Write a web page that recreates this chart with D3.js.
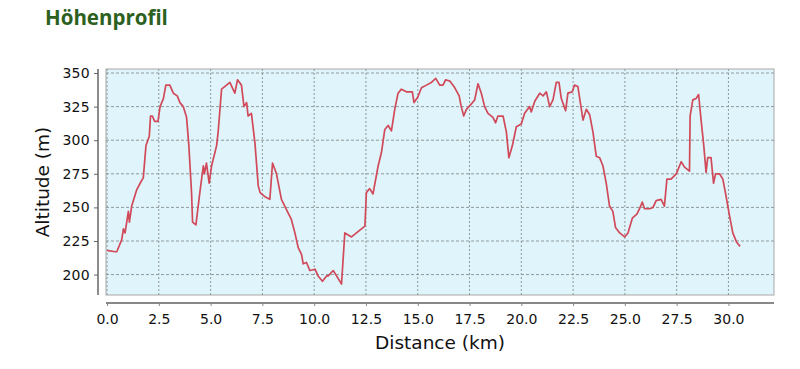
<!DOCTYPE html>
<html><head><meta charset="utf-8">
<script src="https://cdn.jsdelivr.net/npm/d3@7"></script>
<style>body{margin:0;background:#fff;}svg{display:block;}</style>
</head><body>
<svg id="c" width="800" height="369"></svg>
<script>
const distanceKm = [0,0.39,0.47,0.71,0.79,0.87,1.03,1.08,1.19,1.43,1.67,1.75,1.88,2.04,2.10,2.19,2.30,2.46,2.56,2.72,2.84,3.03,3.20,3.39,3.52,3.68,3.84,3.95,4.08,4.13,4.29,4.48,4.65,4.70,4.80,4.93,5.05,5.29,5.37,5.53,5.77,5.93,6.17,6.30,6.49,6.61,6.74,6.81,6.97,7.14,7.30,7.39,7.62,7.86,7.99,8.18,8.42,8.58,8.74,8.90,9.07,9.23,9.39,9.47,9.63,9.79,10.04,10.19,10.40,10.60,10.68,10.92,11.08,11.32,11.48,11.80,12.45,12.52,12.68,12.84,13.09,13.25,13.41,13.57,13.73,13.89,14.05,14.21,14.45,14.74,14.82,15.00,15.18,15.42,15.66,15.87,16.06,16.22,16.35,16.55,16.79,17.00,17.10,17.22,17.35,17.59,17.75,17.91,18.07,18.23,18.39,18.63,18.76,18.87,19.12,19.28,19.40,19.57,19.76,20.00,20.16,20.40,20.48,20.65,20.89,21.05,21.21,21.37,21.53,21.69,21.82,21.93,22.14,22.25,22.46,22.57,22.73,22.90,22.98,23.14,23.30,23.46,23.62,23.78,23.94,24.10,24.26,24.42,24.55,24.75,24.99,25.15,25.36,25.58,25.71,25.84,25.95,26.20,26.36,26.51,26.75,26.91,27.03,27.23,27.48,27.72,27.88,28.12,28.15,28.28,28.44,28.56,28.68,28.81,28.92,29.00,29.16,29.28,29.38,29.57,29.73,29.89,30.05,30.21,30.40,30.56];
const altitudeM = [218,217,217,226,234,231,247,239,251,263,270,272,296,303,318,318,314,314,325,331,341,341,335,333,328,325,317,296,261,239,237,261,281,275,283,268,281,296,307,338,341,343,335,345,341,325,328,318,320,298,266,261,258,256,283,275,256,251,246,241,231,220,215,208,209,203,204,199,195,199,199,203,199,193,231,228,236,261,264,260,281,291,308,311,307,323,335,338,336,336,328,332,339,341,343,346,341,341,345,344,339,333,325,318,323,327,330,342,335,325,320,317,313,318,318,306,287,296,310,312,320,325,321,329,335,333,336,325,330,343,343,331,322,335,336,341,340,323,315,323,319,306,288,287,281,268,251,247,235,231,228,231,242,245,249,254,249,249,250,255,256,251,271,271,275,284,280,277,318,330,331,334,315,296,276,287,287,268,275,275,271,258,244,231,224,221];
const xTicks = [0,2.5,5,7.5,10,12.5,15,17.5,20,22.5,25,27.5,30];
const yTicks = [200,225,250,275,300,325,350];
const titleText = "Höhenprofil";
const xLabel = "Distance (km)";
const yLabel = "Altitude (m)";

const svg = d3.select("#c");
const L = 106, R = 774, T = 69, B = 295;
const x = d3.scaleLinear().domain([-0.05, 32.2]).range([L, R]);
const y = d3.scaleLinear().domain([184.8, 353]).range([B, T]);
const font = "DejaVu Sans, Verdana, sans-serif";

svg.append("text").attr("x", 45).attr("y", 25).text(titleText)
  .attr("font-family", "Open Sans, sans-serif").attr("font-weight", "bold").attr("font-size", 20.5).attr("fill", "#2b6020");

svg.append("rect").attr("x", L).attr("y", T).attr("width", R - L).attr("height", B - T)
  .attr("fill", "#e0f4fb").attr("stroke", "#a8a8a8").attr("stroke-width", 1);

const g = svg.append("g");
g.selectAll(".gx").data(xTicks).join("line")
  .attr("x1", d => x(d)).attr("x2", d => x(d)).attr("y1", T).attr("y2", B)
  .attr("stroke", "#8f9a9a").attr("stroke-width", 1).attr("stroke-dasharray", "2,2");
g.selectAll(".gy").data(yTicks).join("line")
  .attr("x1", L).attr("x2", R).attr("y1", d => y(d)).attr("y2", d => y(d))
  .attr("stroke", "#8f9a9a").attr("stroke-width", 1).attr("stroke-dasharray", "3,2");

const line = d3.line().x((d, i) => x(distanceKm[i])).y(d => y(d));
svg.append("path").datum(altitudeM).attr("d", line)
  .attr("fill", "none").attr("stroke", "#d04a5a").attr("stroke-width", 1.7).attr("stroke-linejoin", "round");

// Y axis
const ya = svg.append("g").attr("transform", "translate(98,0)")
  .call(d3.axisLeft(y).tickValues(yTicks).tickSize(4).tickPadding(4).tickFormat(d3.format("d")));
ya.select(".domain").attr("d", `M0,${T}V${B}`).attr("stroke", "#666").attr("stroke-width", 1.5);
ya.selectAll(".tick line").attr("stroke", "#666");
ya.selectAll("text").attr("font-family", font).attr("font-size", 14).attr("fill", "#111").attr("letter-spacing", 0.3);

// X axis
const xa = svg.append("g").attr("transform", "translate(0,303)")
  .call(d3.axisBottom(x).tickValues(xTicks).tickSize(3).tickPadding(8).tickFormat(d3.format(".1f")));
xa.select(".domain").attr("d", `M${L},0H${R}`).attr("stroke", "#888").attr("stroke-width", 2);
xa.selectAll(".tick line").attr("stroke", "#888");
xa.selectAll("text").attr("font-family", font).attr("font-size", 14).attr("fill", "#111");

svg.append("text").attr("x", 440).attr("y", 349).attr("text-anchor", "middle").text(xLabel)
  .attr("font-family", font).attr("font-size", 18.5).attr("fill", "#111");
svg.append("text").attr("transform", "translate(49,182) rotate(-90)").attr("text-anchor", "middle").text(yLabel)
  .attr("font-family", font).attr("font-size", 18.5).attr("fill", "#111");
</script>
</body></html>
